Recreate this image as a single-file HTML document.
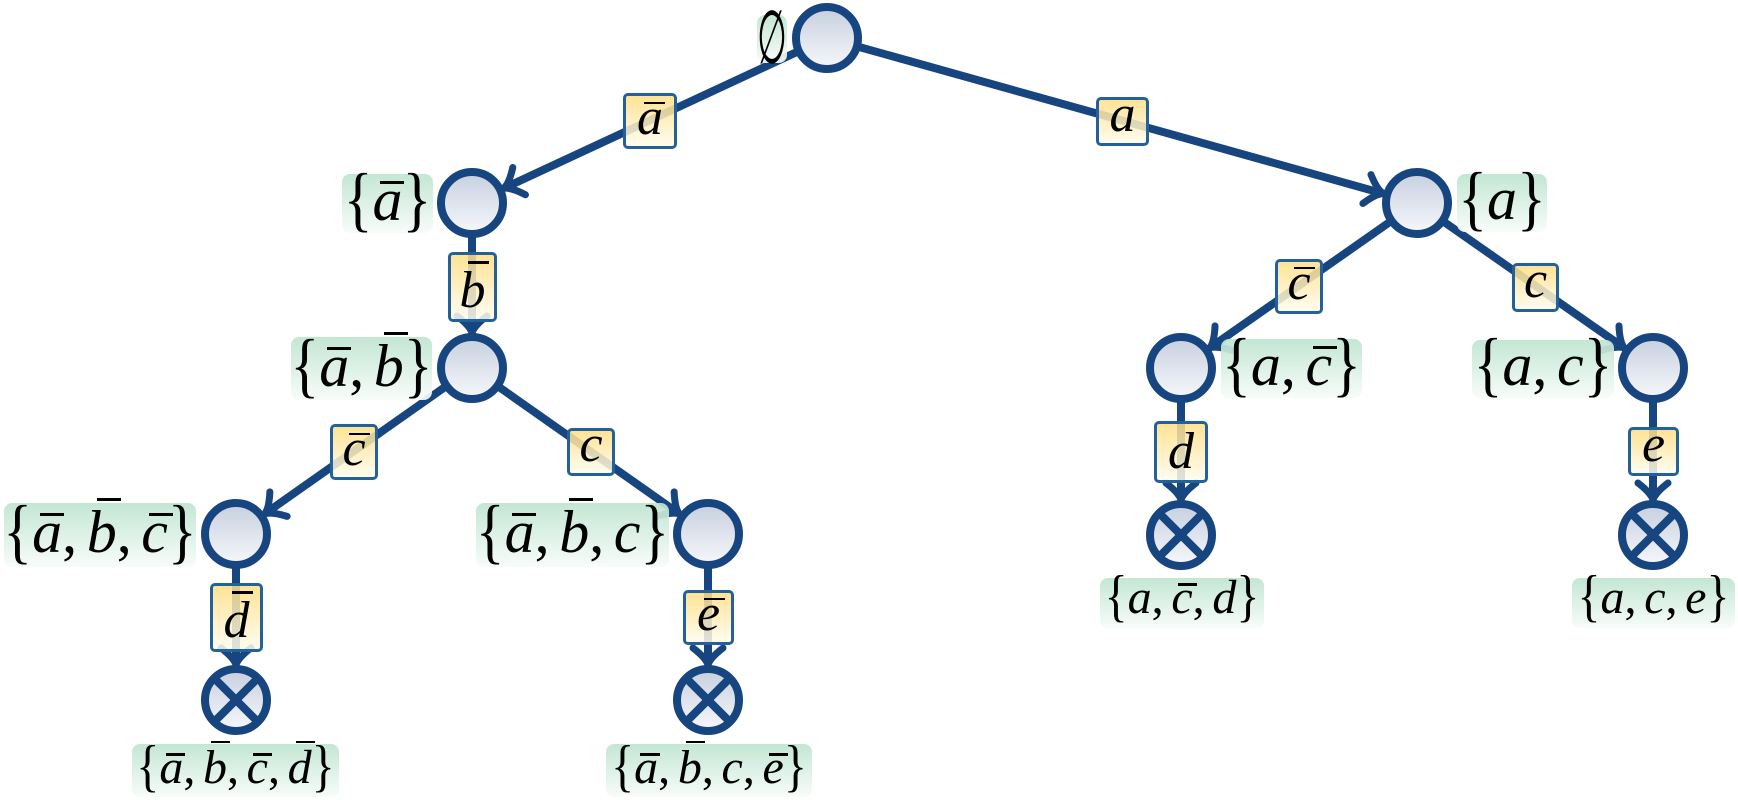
<!DOCTYPE html>
<html>
<head>
<meta charset="utf-8">
<style>
  html,body{margin:0;padding:0;}
  body{width:1738px;height:800px;overflow:hidden;background:#fff;position:relative;}
  svg{position:absolute;left:0;top:0;}
  .el{position:absolute;box-sizing:border-box;border:3px solid #23619a;border-radius:5px;
      background:linear-gradient(rgba(255,222,132,.86),rgba(255,252,238,.86));
      display:flex;justify-content:center;align-items:flex-end;padding-bottom:2px;
      font-family:"Liberation Serif","DejaVu Serif",serif;font-style:italic;font-size:52px;line-height:1;color:#000;white-space:nowrap;}
  .nl{position:absolute;box-sizing:border-box;border-radius:8px;
      background:linear-gradient(rgba(190,228,208,.92),rgba(247,252,249,.92));
      display:flex;justify-content:center;align-items:flex-end;
      font-family:"Liberation Serif","DejaVu Serif",serif;line-height:1;color:#000;white-space:nowrap;}
  .nl i,.el i{font-style:italic;}
  .br{display:inline-block;font-style:normal;transform:scaleY(1.2);transform-origin:50% 0.6em;}
  .cm{font-style:normal;margin-right:0.16em;}
  .o{position:relative;display:inline-block;font-style:italic;}
  .o::after{content:"";position:absolute;left:0.13em;width:0.4em;top:0.19em;height:0.05em;background:#000;}
  .o.t::after{top:-0.07em;left:0.17em;}
  .es{position:absolute;left:747px;top:6px;width:50px;height:64px;display:flex;justify-content:center;align-items:center;}
  .es span{display:inline-block;font-family:"DejaVu Sans",sans-serif;font-size:62px;line-height:1;transform:scale(0.55,1.2);color:#000;}
</style>
</head>
<body>
<svg width="1738" height="800" viewBox="0 0 1738 800" xmlns="http://www.w3.org/2000/svg">
  <defs>
    <linearGradient id="cg" x1="0" y1="0" x2="0" y2="1">
      <stop offset="0" stop-color="#c6cfdf"/>
      <stop offset="1" stop-color="#f7f8fb"/>
    </linearGradient>
    <path id="ah" d="M-17,-15 Q-7,-2 0,0 Q-7,2 -17,15" fill="none" stroke="#17457f" stroke-width="7" stroke-linecap="round" stroke-linejoin="round"/>
  </defs>
  <g stroke="#17457f" stroke-width="8" fill="none">
    <line x1="827" y1="38" x2="507.3" y2="186.6"/>
    <line x1="827" y1="38" x2="1379.4" y2="192.5"/>
    <line x1="472" y1="203" x2="472" y2="329"/>
    <line x1="472" y1="368" x2="267.9" y2="511.6"/>
    <line x1="472" y1="368" x2="676.1" y2="511.6"/>
    <line x1="236" y1="534" x2="236" y2="661"/>
    <line x1="708" y1="534" x2="708" y2="661"/>
    <line x1="1417" y1="203" x2="1213" y2="345.7"/>
    <line x1="1417" y1="203" x2="1621" y2="345.7"/>
    <line x1="1181" y1="368" x2="1181" y2="496"/>
    <line x1="1653" y1="368" x2="1653" y2="496"/>
  </g>
  <use href="#ah" transform="translate(503.7,188.3) rotate(155.07)"/>
  <use href="#ah" transform="translate(1383.3,193.6) rotate(15.62)"/>
  <use href="#ah" transform="translate(472,333) rotate(90)"/>
  <use href="#ah" transform="translate(264.6,513.9) rotate(144.88)"/>
  <use href="#ah" transform="translate(679.4,513.9) rotate(35.12)"/>
  <use href="#ah" transform="translate(236,665) rotate(90)"/>
  <use href="#ah" transform="translate(708,665) rotate(90)"/>
  <use href="#ah" transform="translate(1209.7,347.9) rotate(145.04)"/>
  <use href="#ah" transform="translate(1624.3,347.9) rotate(34.96)"/>
  <use href="#ah" transform="translate(1181,500) rotate(90)"/>
  <use href="#ah" transform="translate(1653,500) rotate(90)"/>
  <g fill="url(#cg)" stroke="#17457f" stroke-width="8">
    <circle cx="827" cy="38" r="31"/>
    <circle cx="472" cy="203" r="31"/>
    <circle cx="1417" cy="203" r="31"/>
    <circle cx="472" cy="368" r="31"/>
    <circle cx="236" cy="534" r="31"/>
    <circle cx="708" cy="534" r="31"/>
    <circle cx="1181" cy="368" r="31"/>
    <circle cx="1653" cy="368" r="31"/>
    <circle cx="236" cy="700" r="31"/>
    <circle cx="708" cy="700" r="31"/>
    <circle cx="1181" cy="535" r="31"/>
    <circle cx="1653" cy="535" r="31"/>
  </g>
  <g stroke="#17457f" stroke-width="8">
    <line x1="214" y1="678" x2="258" y2="722"/><line x1="258" y1="678" x2="214" y2="722"/>
    <line x1="686" y1="678" x2="730" y2="722"/><line x1="730" y1="678" x2="686" y2="722"/>
    <line x1="1159" y1="513" x2="1203" y2="557"/><line x1="1203" y1="513" x2="1159" y2="557"/>
    <line x1="1631" y1="513" x2="1675" y2="557"/><line x1="1675" y1="513" x2="1631" y2="557"/>
  </g>
</svg>

<!-- edge labels -->
<div class="el" style="left:623px;top:93px;width:54px;height:56px;"><span class="o">a</span></div>
<div class="el" style="left:1096px;top:97px;width:53px;height:49px;"><i>a</i></div>
<div class="el" style="left:448px;top:252px;width:49px;height:70px;"><span class="o t">b</span></div>
<div class="el" style="left:330px;top:424px;width:48px;height:56px;"><span class="o">c</span></div>
<div class="el" style="left:567px;top:428px;width:48px;height:48px;"><i>c</i></div>
<div class="el" style="left:210px;top:583px;width:53px;height:69px;"><span class="o t">d</span></div>
<div class="el" style="left:683px;top:590px;width:51px;height:55px;"><span class="o">e</span></div>
<div class="el" style="left:1275px;top:259px;width:48px;height:55px;"><span class="o">c</span></div>
<div class="el" style="left:1512px;top:263px;width:47px;height:49px;"><i>c</i></div>
<div class="el" style="left:1154px;top:421px;width:54px;height:62px;"><i>d</i></div>
<div class="el" style="left:1628px;top:427px;width:51px;height:49px;"><i>e</i></div>

<!-- node labels -->
<div class="nl" style="left:757px;top:15px;width:30px;height:48px;"></div>
<div class="es"><span>∅</span></div>

<div class="nl" style="left:342px;top:174px;width:91px;height:59px;font-size:60px;padding-bottom:3px;"><span class="br">{</span><span class="o">a</span><span class="br">}</span></div>
<div class="nl" style="left:291px;top:337px;width:141px;height:63px;font-size:60px;padding-bottom:4px;"><span class="br">{</span><span class="o">a</span><span class="cm">,</span><span class="o t">b</span><span class="br">}</span></div>
<div class="nl" style="left:4px;top:503px;width:192px;height:64px;font-size:60px;padding-bottom:5px;"><span class="br">{</span><span class="o">a</span><span class="cm">,</span><span class="o t">b</span><span class="cm">,</span><span class="o">c</span><span class="br">}</span></div>
<div class="nl" style="left:476px;top:503px;width:193px;height:64px;font-size:60px;padding-bottom:5px;"><span class="br">{</span><span class="o">a</span><span class="cm">,</span><span class="o t">b</span><span class="cm">,</span><i>c</i><span class="br">}</span></div>
<div class="nl" style="left:132px;top:744px;width:207px;height:53px;font-size:48px;padding-bottom:5px;"><span class="br">{</span><span class="o">a</span><span class="cm">,</span><span class="o t">b</span><span class="cm">,</span><span class="o">c</span><span class="cm">,</span><span class="o t">d</span><span class="br">}</span></div>
<div class="nl" style="left:606px;top:744px;width:206px;height:53px;font-size:48px;padding-bottom:5px;"><span class="br">{</span><span class="o">a</span><span class="cm">,</span><span class="o t">b</span><span class="cm">,</span><i>c</i><span class="cm">,</span><span class="o">e</span><span class="br">}</span></div>

<div class="nl" style="left:1457px;top:174px;width:90px;height:58px;font-size:60px;padding-bottom:3px;"><span class="br">{</span><i>a</i><span class="br">}</span></div>
<div class="nl" style="left:1221px;top:339px;width:141px;height:59px;font-size:60px;padding-bottom:3px;"><span class="br">{</span><i>a</i><span class="cm">,</span><span class="o">c</span><span class="br">}</span></div>
<div class="nl" style="left:1472px;top:340px;width:142px;height:58px;font-size:60px;padding-bottom:3px;"><span class="br">{</span><i>a</i><span class="cm">,</span><i>c</i><span class="br">}</span></div>
<div class="nl" style="left:1100px;top:578px;width:164px;height:50px;font-size:48px;padding-bottom:6px;"><span class="br">{</span><i>a</i><span class="cm">,</span><span class="o">c</span><span class="cm">,</span><i>d</i><span class="br">}</span></div>
<div class="nl" style="left:1572px;top:578px;width:163px;height:50px;font-size:48px;padding-bottom:6px;"><span class="br">{</span><i>a</i><span class="cm">,</span><i>c</i><span class="cm">,</span><i>e</i><span class="br">}</span></div>
</body>
</html>
